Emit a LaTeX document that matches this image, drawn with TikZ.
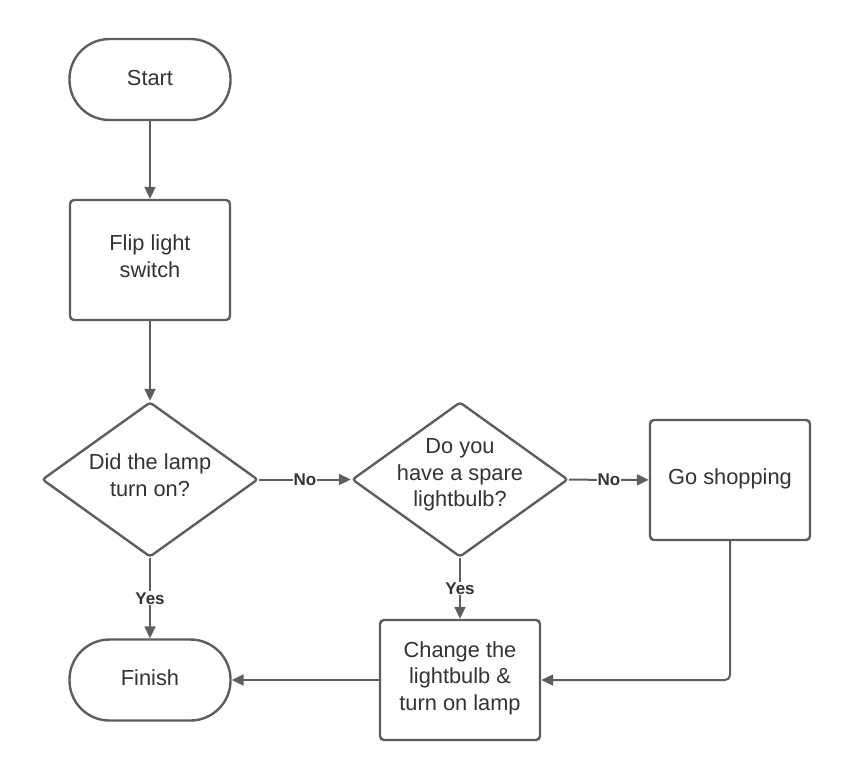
\documentclass[tikz,border=0pt]{standalone}
\usepackage{fontspec}
\setmainfont{Liberation Sans}
\usetikzlibrary{arrows.meta,shapes.geometric}
\definecolor{lineC}{HTML}{5E5E5E}
\definecolor{textC}{HTML}{333333}
\begin{document}
\begin{tikzpicture}[x=1pt,y=-1pt,
  every node/.style={text=textC},
  base/.style={draw=lineC,line width=2.4pt,fill=white,inner sep=0pt},
  terminal/.style={base,rounded corners=40pt,minimum width=161pt,minimum height=81pt},
  procbox/.style={base,rounded corners=4pt,minimum width=160pt,minimum height=120pt},
  decision/.style={base,diamond,rounded corners=3pt,minimum width=216pt,minimum height=155pt},
  txt/.style={font=\fontsize{21.8}{26.5}\selectfont,align=center,inner sep=0pt},
  conn/.style={draw=lineC,line width=2pt,-{Triangle[length=12pt,width=11pt]}},
  lbl/.style={fill=white,font=\bfseries\fontsize{17}{19}\selectfont,inner sep=1pt,text=textC}
]
\useasboundingbox (0,0) rectangle (850,780);

\node[terminal] (start) at (150,79.5) {};
\node[txt] at (150,78) {Start};

\node[procbox] (flip) at (150,260) {};
\node[txt] at (150,256) {Flip light\\switch};

\node[decision] (d1) at (150,479.5) {};
\node[txt] at (150,475) {Did the lamp\\turn on?};

\node[decision] (d2) at (460,479.5) {};
\node[txt] at (460,475) {Do you\\have a spare\\lightbulb?};

\node[procbox] (shop) at (730,480) {};
\node[txt] at (730,479) {Go shopping};

\node[terminal] (finish) at (150,680) {};
\node[txt] at (150,678) {Finish};

\node[procbox] (change) at (460,680) {};
\node[txt] at (460,678) {Change the\\lightbulb \&\\turn on lamp};

\draw[conn] (start) -- (flip);
\draw[conn] (flip) -- (d1);
\draw[conn] (d1) -- node[lbl] {No} (d2);
\draw[conn] (d2) -- node[lbl] {No} (shop);
\draw[conn] (d1) -- node[lbl] {Yes} (finish);
\draw[conn] (d2) -- node[lbl] {Yes} (change);
\draw[conn,rounded corners=5pt] (shop.south) |- (change.east);
\draw[conn] (change) -- (finish);
\end{tikzpicture}
\end{document}
